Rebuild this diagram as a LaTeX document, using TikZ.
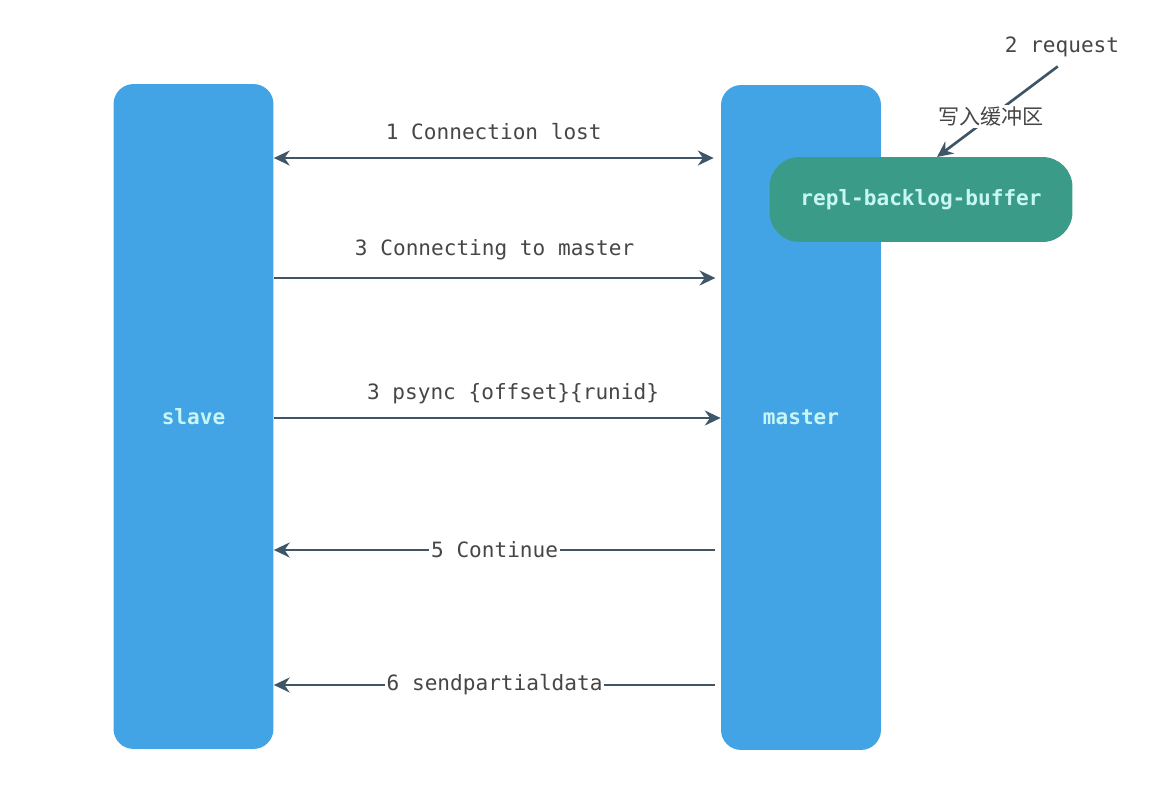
\documentclass[tikz,border=0pt]{standalone}
\usepackage{fontspec}
\setmonofont{DejaVu Sans Mono}
\newfontfamily\cjk{Noto Sans CJK SC}
\usetikzlibrary{arrows.meta}
\definecolor{boxblue}{RGB}{66,164,229}
\definecolor{bufgreen}{RGB}{58,156,136}
\definecolor{boxtext}{RGB}{200,246,246}
\definecolor{arrowgray}{RGB}{62,86,104}
\definecolor{labelgray}{RGB}{70,70,70}
\begin{document}
\begin{tikzpicture}[x=0.02cm, y=-0.02cm,
    box/.style = {fill = boxblue, rounded corners = 0.4cm, minimum width = 3.2cm, minimum height = 13.3cm,
                  font = \ttfamily\bfseries\fontsize{12}{14}\selectfont, text = boxtext},
    msg/.style = {draw = arrowgray, line width = 1.5pt, -{Stealth[length = 9pt, width = 8.5pt]}},
    lbl/.style = {font = \ttfamily\fontsize{12}{14}\selectfont, text = labelgray}]
\useasboundingbox (0,0) rectangle (1156,798);
\node[box] (S) at (193.5,416.5) {slave};
\node[box] (M) at (801,417.5) {master};
\node[fill = bufgreen, rounded corners = 0.6cm, minimum width = 6.06cm, minimum height = 1.7cm,
      font = \ttfamily\bfseries\fontsize{12}{14}\selectfont, text = boxtext] (B) at (921,199.5) {repl-backlog-buffer};
\node[lbl] (R) at (1062,47) {2 request};
\coordinate (Bin) at (937,157);

% rows of the message arrows
\coordinate (r1) at (0,158);
\coordinate (r2) at (0,278);
\coordinate (r3) at (0,418);
\coordinate (r4) at (0,550);
\coordinate (r5) at (0,685);

\draw[msg, {Stealth[length = 9pt, width = 8.5pt]}-{Stealth[length = 9pt, width = 8.5pt]}] (S.east |- r1) -- ([xshift=-4pt]M.west |- r1) node[lbl, above = 6pt, midway] {1 Connection lost};
\draw[msg] (S.east |- r2) -- ([xshift=-3pt]M.west |- r2) node[lbl, above = 6pt, midway] {3 Connecting to master};
\draw[msg] (S.east |- r3) -- (M.west |- r3) node[lbl, above = 4pt, midway, xshift = 9pt] {3 psync \{offset\}\{runid\}};
\draw[msg] ([xshift=-3pt]M.west |- r4) -- (S.east |- r4) node[lbl, fill = white, inner sep = 1pt, midway] {5 Continue};
\draw[msg] ([xshift=-3pt]M.west |- r5) -- (S.east |- r5) node[lbl, fill = white, inner sep = 1pt, midway] {6 sendpartialdata};
\draw[msg, shorten <= 3pt] (R.south) -- (Bin) node[fill = white, inner sep = 1pt, pos = 0.57, font = \cjk\fontsize{12}{14}\selectfont, text = labelgray] {写入缓冲区};
\end{tikzpicture}
\end{document}
